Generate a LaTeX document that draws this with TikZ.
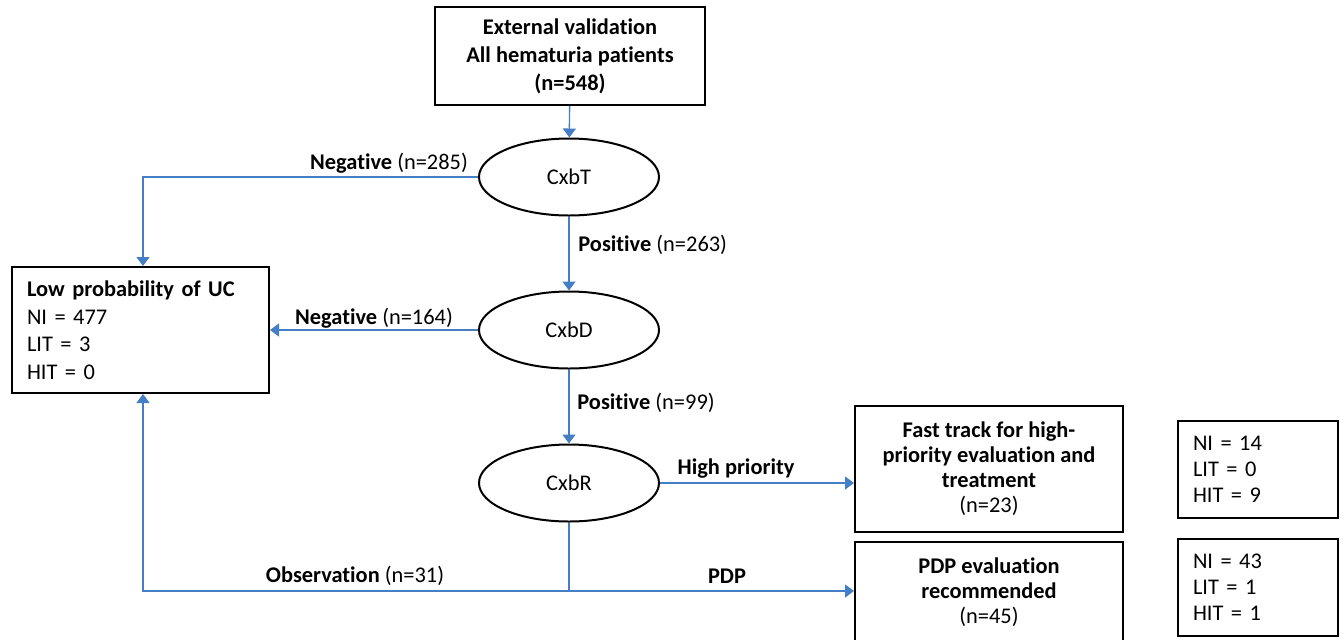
\documentclass[tikz,border=0pt]{standalone}
\usepackage{fontspec}
\setmainfont{Carlito}[Ligatures=NoCommon]
\usetikzlibrary{arrows.meta,shapes.geometric}
\definecolor{linkblue}{RGB}{68,126,196}
\begin{document}
\begin{tikzpicture}[x=0.5pt,y=-0.5pt,
  every node/.style={font=\fontsize{11.2}{13.75}\selectfont},
  box/.style={draw=black,line width=1pt,inner sep=0pt,align=center},
  oval/.style={draw=black,line width=1pt,ellipse,minimum width=90pt,minimum height=38.5pt,inner sep=0pt},
  link/.style={draw=linkblue,line width=0.7pt},
  arr/.style={link,-{Triangle[length=4.5pt,width=6.5pt]}},
  lbl/.style={inner sep=0pt}
]
\clip (0,0) rectangle (1344,639);

\node[box,minimum width=135pt,minimum height=49pt,font=\bfseries\fontsize{11.2}{14}\selectfont] (top) at (570,56) {External validation\\All hematuria patients\\(n=548)};

\node[oval] (T) at (569,177) {CxbT};
\node[oval] (D) at (569,330) {CxbD};
\node[oval] (R) at (569,483) {CxbR};

\node[box,minimum width=128.5pt,minimum height=63pt,align=left,text width=113.5pt] (low) at (140.5,330) {\textbf{Low probability of UC}\\NI = 477\\LIT = 3\\HIT = 0};

\node[box,minimum width=134pt,minimum height=63pt,font=\fontsize{11.2}{12.5}\selectfont] (fast) at (989,469) {\textbf{Fast track for high-}\\\textbf{priority evaluation and}\\\textbf{treatment}\\(n=23)};

\node[box,minimum width=134pt,minimum height=50pt,font=\fontsize{11.2}{12.5}\selectfont] (pdp) at (989,592) {\textbf{PDP evaluation}\\\textbf{recommended}\\(n=45)};

\node[box,minimum width=80pt,minimum height=48.5pt,align=left,text width=65pt,font=\fontsize{11.2}{13}\selectfont] (n1) at (1258,469.5) {NI = 14\\LIT = 0\\HIT = 9};
\node[box,minimum width=80pt,minimum height=48.5pt,align=left,text width=65pt,font=\fontsize{11.2}{13}\selectfont] (n2) at (1258,587.5) {NI = 43\\LIT = 1\\HIT = 1};

\draw[arr] (top) -- (T);
\coordinate (c1) at (143,177);
\draw[arr] (T.west) -- (c1) -- (c1 |- low.north);
\draw[arr] (T) -- (D);
\draw[arr] (D.west) -- (low.east);
\draw[arr] (D) -- (R);
\draw[arr] (R.east) -- (R.east -| fast.west);
\coordinate (j) at (569,591);
\draw[arr] (R.south) -- (j) -- (j -| pdp.west);
\draw[arr] (j) -- (j -| c1) -- (c1 |- low.south);

\node[lbl] (l1) at (389,163) {\textbf{Negative} (n=285)};
\node[lbl,anchor=west] (l2) at (578,245) {\textbf{Positive} (n=263)};
\node[lbl] (l3) at (374,318) {\textbf{Negative} (n=164)};
\node[lbl,anchor=west] (l4) at (577,403) {\textbf{Positive} (n=99)};
\node[lbl] (l5) at (736,469) {\textbf{High priority}};
\node[lbl] (l6) at (355,576) {\textbf{Observation} (n=31)};
\node[lbl] (l7) at (727,576) {\textbf{PDP}};
\end{tikzpicture}
\end{document}
